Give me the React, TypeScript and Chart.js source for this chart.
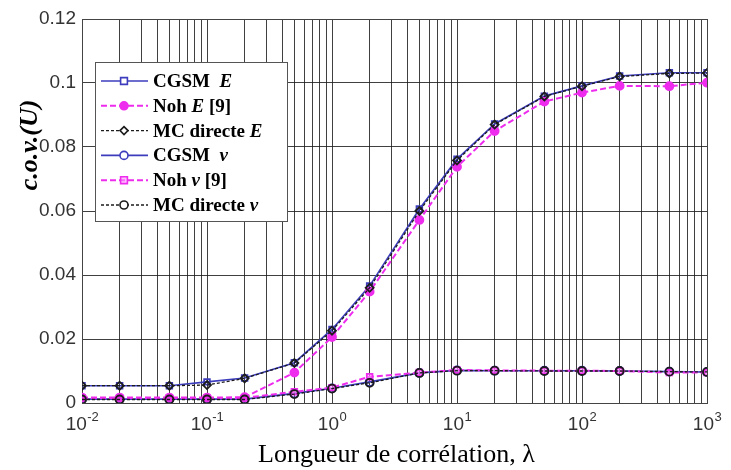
import React, { useEffect, useRef } from 'react';
import { Chart, registerables } from 'chart.js';

Chart.register(...registerables);

// ---------- data ----------
const lambdas = [0.01, 0.02, 0.05, 0.1, 0.2, 0.5, 1, 2, 5, 10, 20, 50, 100, 200, 500, 1000];
const cgsmE = [0.0054, 0.0054, 0.0054, 0.0066, 0.0078, 0.0126, 0.023, 0.0366, 0.0606, 0.0762, 0.0872, 0.0959, 0.0991, 0.1022, 0.1032, 0.1032];
const nohE = [0.0017, 0.0017, 0.0017, 0.0017, 0.0018, 0.0095, 0.0206, 0.0348, 0.0572, 0.0738, 0.085, 0.0942, 0.097, 0.0991, 0.099, 0.1001];
const mcE = [0.0054, 0.0054, 0.0054, 0.0056, 0.0077, 0.0125, 0.0226, 0.036, 0.06, 0.0758, 0.087, 0.0958, 0.099, 0.102, 0.103, 0.1031];
const cgsmV = [0.0012, 0.0012, 0.0012, 0.0012, 0.0012, 0.003, 0.0046, 0.0066, 0.0094, 0.0102, 0.0101, 0.0101, 0.0101, 0.01, 0.0098, 0.0097];
const nohV = [0.0016, 0.0016, 0.0016, 0.0016, 0.0016, 0.0035, 0.0048, 0.0082, 0.0095, 0.0103, 0.0102, 0.0101, 0.0101, 0.01, 0.0095, 0.0095];
const mcV = [0.0011, 0.0011, 0.0011, 0.0011, 0.0011, 0.0028, 0.0045, 0.0063, 0.0094, 0.0101, 0.0101, 0.01, 0.01, 0.01, 0.0098, 0.0097];

const seriesLabels = ['CGSM E', 'Noh E [9]', 'MC directe E', 'CGSM ν', 'Noh ν [9]', 'MC directe ν'];
const legendParts: [string, boolean][][] = [
  [['CGSM  ', false], ['E', true]],
  [['Noh ', false], ['E', true], [' [9]', false]],
  [['MC directe ', false], ['E', true]],
  [['CGSM  ', false], ['ν', true]],
  [['Noh ', false], ['ν', true], [' [9]', false]],
  [['MC directe ', false], ['ν', true]],
];
const xMajorTicks = [0.01, 0.1, 1, 10, 100, 1000];
const xExponents = ['-2', '-1', '0', '1', '2', '3'];
const mantissas = [1, 2, 3, 4, 5, 6, 7, 8, 9];
const yTicks = [0, 0.02, 0.04, 0.06, 0.08, 0.1, 0.12];
const xTitle = 'Longueur de corrélation, λ';
const yTitle = 'c.o.v.(U)';

const BLUE = '#3c3cbc';
const MAGENTA = '#ee2cee';
const BLACK = '#1c1c1c';

type Style = { color: string; dash: number[]; width: number; point: string; fill: string };
const styles: Style[] = [
  { color: BLUE, dash: [], width: 1.6, point: 'rect', fill: 'rgba(0,0,0,0)' },
  { color: MAGENTA, dash: [6, 3], width: 2, point: 'circle', fill: MAGENTA },
  { color: BLACK, dash: [3, 2], width: 1.3, point: 'rectRot', fill: 'rgba(0,0,0,0)' },
  { color: BLUE, dash: [], width: 1.6, point: 'circle', fill: 'rgba(0,0,0,0)' },
  { color: MAGENTA, dash: [6, 3], width: 2, point: 'rect', fill: 'rgba(255,150,255,0.6)' },
  { color: BLACK, dash: [3, 2], width: 1.3, point: 'circle', fill: 'rgba(0,0,0,0)' },
];
const orders = [2, 1, 0, 2, 1, 0];
const seriesValues = [cgsmE, nohE, mcE, cgsmV, nohV, mcV];

function drawMarker(ctx: CanvasRenderingContext2D, style: string, x: number, y: number, r: number) {
  ctx.beginPath();
  if (style === 'rect') {
    const s = r * 0.85;
    ctx.rect(x - s, y - s, 2 * s, 2 * s);
  } else if (style === 'rectRot') {
    ctx.moveTo(x, y - r);
    ctx.lineTo(x + r, y);
    ctx.lineTo(x, y + r);
    ctx.lineTo(x - r, y);
    ctx.closePath();
  } else {
    ctx.arc(x, y, r, 0, Math.PI * 2);
  }
}

const decorPlugin = {
  id: 'decor',
  beforeDatasetsDraw(chart: any) {
    const { ctx, chartArea } = chart;
    ctx.save();
    ctx.strokeStyle = '#444';
    ctx.lineWidth = 1;
    ctx.strokeRect(Math.round(chartArea.left) + 0.5, Math.round(chartArea.top) + 0.5,
      Math.round(chartArea.right - chartArea.left), Math.round(chartArea.bottom - chartArea.top));
    ctx.restore();
  },
  afterDatasetsDraw(chart: any) {
    const { ctx, chartArea } = chart;
    const xs = chart.scales.x;
    ctx.save();
    // x tick labels with superscripts
    ctx.fillStyle = '#333';
    ctx.textBaseline = 'alphabetic';
    xMajorTicks.forEach((v, i) => {
      const px = xs.getPixelForValue(v);
      ctx.font = '19px "Liberation Sans", Arial, sans-serif';
      const wb = ctx.measureText('10').width;
      ctx.font = '13px "Liberation Sans", Arial, sans-serif';
      const we = ctx.measureText(xExponents[i]).width;
      const x0 = px - (wb + we) / 2;
      const base = chartArea.bottom + 27;
      ctx.font = '19px "Liberation Sans", Arial, sans-serif';
      ctx.textAlign = 'left';
      ctx.fillText('10', x0, base);
      ctx.font = '13px "Liberation Sans", Arial, sans-serif';
      ctx.fillText(xExponents[i], x0 + wb + 0.5, base - 9);
    });
    // x title
    ctx.fillStyle = '#000';
    ctx.font = '26px "Liberation Serif", "Times New Roman", serif';
    ctx.textAlign = 'center';
    ctx.fillText(xTitle, (chartArea.left + chartArea.right) / 2 + 2, chartArea.bottom + 59);
    // y title
    ctx.save();
    ctx.translate(37, 145);
    ctx.rotate(-Math.PI / 2);
    ctx.font = 'italic bold 26px "Liberation Serif", "Times New Roman", serif';
    ctx.textAlign = 'center';
    ctx.fillText(yTitle, 0, 0);
    ctx.restore();

    // legend
    const bx = chartArea.left + 13;
    const by = chartArea.top + 43;
    const bw = 192;
    const bh = 159;
    ctx.fillStyle = '#fff';
    ctx.fillRect(bx, by, bw, bh);
    ctx.strokeStyle = '#555';
    ctx.lineWidth = 1;
    ctx.strokeRect(Math.round(bx) + 0.5, Math.round(by) + 0.5, bw, bh);
    legendParts.forEach((parts, i) => {
      const st = styles[i];
      const cy = by + 19 + i * 24.8;
      ctx.save();
      ctx.strokeStyle = st.color;
      ctx.lineWidth = st.width;
      ctx.setLineDash(st.dash.length ? st.dash : []);
      ctx.beginPath();
      ctx.moveTo(bx + 6, cy);
      ctx.lineTo(bx + 53, cy);
      ctx.stroke();
      ctx.setLineDash([]);
      drawMarker(ctx, st.point, bx + 29, cy, 4);
      ctx.fillStyle = st.point === 'circle' && st.fill !== 'rgba(0,0,0,0)' ? st.fill : (st.fill === 'rgba(0,0,0,0)' ? '#fff' : st.fill);
      ctx.fill();
      ctx.lineWidth = 1.6;
      ctx.stroke();
      ctx.restore();
      let tx = bx + 58;
      ctx.fillStyle = '#000';
      ctx.textAlign = 'left';
      ctx.textBaseline = 'middle';
      parts.forEach(([t, it]) => {
        ctx.font = (it ? 'italic bold ' : 'bold ') + '19px "Liberation Serif", "Times New Roman", serif';
        ctx.fillText(t, tx, cy + 1);
        tx += ctx.measureText(t).width;
      });
    });
    ctx.restore();
  },
};

export default function App() {
  const ref = useRef<HTMLCanvasElement | null>(null);
  useEffect(() => {
    if (!ref.current) return;
    const xGrid: number[] = [];
    xMajorTicks.forEach((d, i) => {
      if (i === xMajorTicks.length - 1) {
        xGrid.push(d);
      } else {
        mantissas.forEach((m) => xGrid.push(Number((m * d).toPrecision(6))));
      }
    });
    const chart = new Chart(ref.current, {
      type: 'line',
      data: {
        datasets: seriesValues.map((vals, i) => ({
          label: seriesLabels[i],
          data: lambdas.map((x, j) => ({ x, y: vals[j] })),
          borderColor: styles[i].color,
          borderWidth: styles[i].width,
          borderDash: styles[i].dash,
          pointStyle: styles[i].point as any,
          pointRadius: 4,
          pointBorderWidth: 1.8,
          pointBorderColor: styles[i].color,
          pointBackgroundColor: styles[i].fill,
          fill: false,
          tension: 0,
          order: orders[i],
        })),
      },
      options: {
        animation: false,
        responsive: true,
        maintainAspectRatio: false,
        layout: { padding: { top: 19, right: 24, left: 0, bottom: 0 } },
        plugins: { legend: { display: false }, tooltip: { enabled: false } },
        scales: {
          x: {
            type: 'logarithmic',
            min: 0.01,
            max: 1000,
            afterBuildTicks: (scale: any) => {
              scale.ticks = xGrid.map((v) => ({ value: v }));
            },
            afterFit: (scale: any) => {
              scale.height = 67;
            },
            ticks: { display: false, autoSkip: false },
            grid: { color: 'rgba(30,30,30,0.85)', lineWidth: 1, drawTicks: false },
            border: { display: true, color: '#444' },
          },
          y: {
            type: 'linear',
            min: 0,
            max: 0.12,
            afterBuildTicks: (scale: any) => {
              scale.ticks = yTicks.map((v) => ({ value: v }));
            },
            afterFit: (scale: any) => {
              scale.width = 82;
            },
            ticks: {
              padding: 6,
              color: '#333',
              font: { family: '"Liberation Sans", Arial, sans-serif', size: 19 },
              callback: (v: any) => String(Number(v)),
            },
            grid: { color: 'rgba(30,30,30,0.85)', lineWidth: 1, drawTicks: false },
            border: { display: true, color: '#444' },
          },
        },
      },
      plugins: [decorPlugin],
    });
    return () => chart.destroy();
  }, []);
  return (
    <div style={{ position: 'fixed', left: 0, top: 0, width: 731, height: 470, background: '#fff' }}>
      <canvas ref={ref} />
    </div>
  );
}
